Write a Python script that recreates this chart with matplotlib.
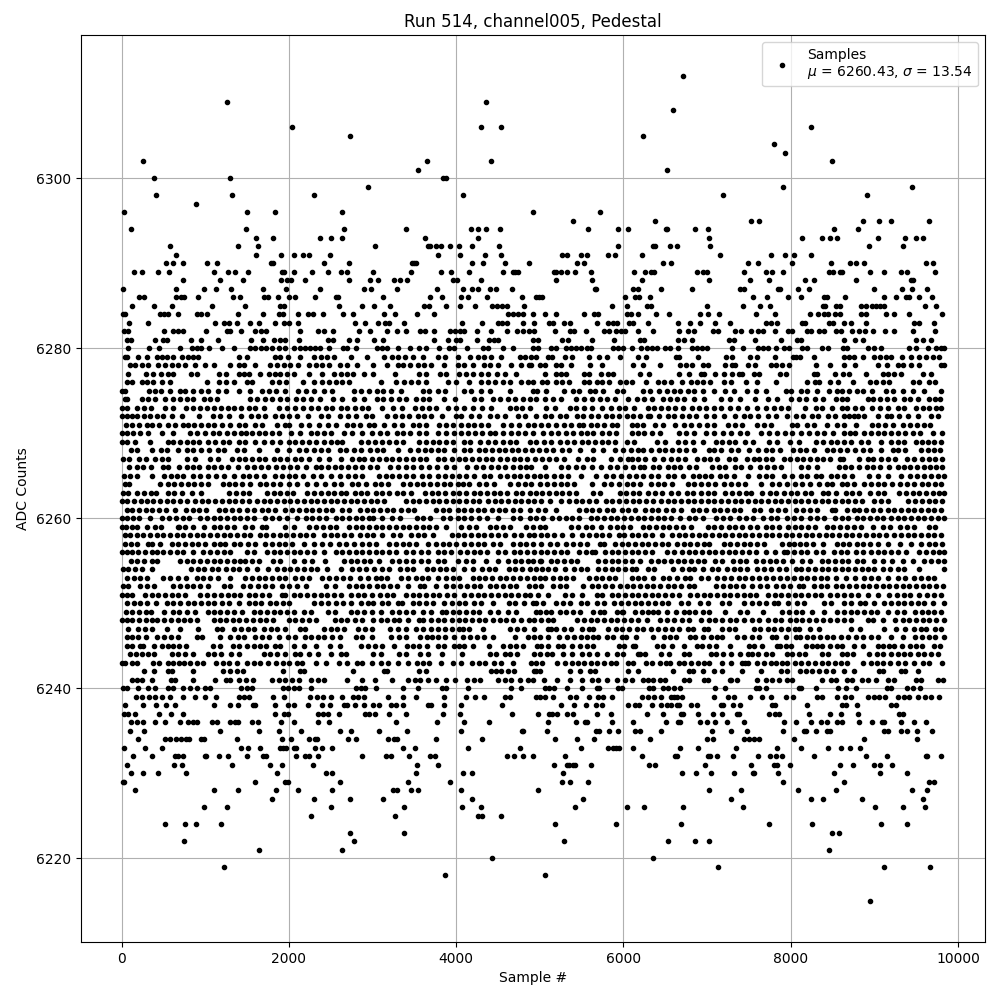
import matplotlib
matplotlib.use('Agg')
import matplotlib.pyplot as plt

# Sample numbers, one list per ADC code.
# Sparse codes are point by point, dense codes are thinned estimates.
adc_6312 = [6716]
adc_6309 = [1263, 4360]
adc_6308 = [6597]
adc_6306 = [2040, 4300, 4539, 8246]
adc_6305 = [2734, 6238]
adc_6304 = [7804]
adc_6303 = [7936]
adc_6302 = [259, 3654, 4419, 8497]
adc_6301 = [3546, 6525]
adc_6300 = [390, 1299, 3846, 3878]
adc_6299 = [2949, 7912, 9454]
adc_6298 = [414, 1323, 2303, 4085, 7194, 8916]
adc_6297 = [893]
adc_6296 = [32, 1502, 1837, 2638, 4923, 5724]
adc_6295 = [5401, 6381, 7529, 7625, 8868, 9059, 9203, 9657]
adc_6294 = [116, 1490, 2662, 3403, 4180, 4264, 4360, 4527, 5580, 5939, 6059, 6513, 6525, 6860, 7015, 8521, 8808]
adc_6293 = [1610, 1813, 2375, 2506, 2638, 3630, 4264, 7027, 8139, 8378, 8474, 8557, 9047, 9370, 9502, 9585]
adc_6292 = [582, 1395, 1634, 3032, 3666, 3690, 3762, 3822, 3929, 4037, 4192, 4515, 5939, 6357, 6381, 6561, 6644, 7039, 8940, 9346]
adc_6291 = [654, 1610, 1909, 2064, 2172, 2243, 2495, 3786, 4049, 4348, 4539, 5270, 5329, 5497, 5568, 5819, 5903, 6226, 7158, 7768, 7936, 8043, 8246]
adc_6290 = [534, 618, 737, 1024, 1144, 1789, 1813, 2423, 2722, 3475, 3499, 3523, 4192, 4324, 4587, 4874, 5449, 5533, 6477, 6573, 7493, 7613, 8019, 8485, 8713, 8784, 8880, 9621, 9705]
adc_6289 = [151, 247, 438, 570, 1108, 1275, 1359, 1514, 1921, 1945, 2064, 2279, 2471, 2626, 2698, 3008, 3463, 3822, 3941, 4156, 4563, 4683, 4707, 4742, 5174, 5198, 5258, 5329, 5425, 5616, 6130, 6262, 6334, 6369, 6883, 6955, 7003, 7445, 7708, 7780, 7912, 8462, 8509, 8593, 8617, 8952, 9119, 9322, 9394, 9729]
adc_6288 = [737, 1179, 1454, 1909, 1980, 2028, 2196, 2722, 2973, 3068, 3259, 3331, 3415, 3965, 4013, 4300, 5198, 5628, 6226, 7027, 7517, 7744, 8175, 8282, 8784, 9442, 9466]
adc_6287 = [20, 654, 988, 1132, 1311, 1693, 1969, 2375, 2901, 2985, 3295, 3774, 4085, 4192, 4264, 4408, 4479, 4671, 5664, 5676, 6118, 6178, 6453, 6824, 7397, 7445, 7852, 7876, 8091, 8222, 8999, 9334, 9454, 9633]
adc_6286 = [211, 271, 654, 717, 749, 916, 1335, 1418, 1705, 1753, 1873, 2004, 2076, 2315, 2566, 2590, 3128, 3686, 3833, 4061, 4145, 4372, 4790, 4959, 4995, 5030, 6023, 6142, 6190, 6322, 7553, 7720, 7971, 8127, 8402, 8438, 8653, 9119, 9263, 9382, 9418, 9538, 9693]
adc_6285 = [130, 393, 608, 1086, 1480, 1895, 1943, 2596, 2879, 3018, 3214, 3620, 3680, 3883, 4050, 4230, 4433, 4485, 4545, 4613, 4816, 5867, 6047, 6286, 6334, 7003, 7433, 7637, 7756, 8390, 8414, 8545, 8593, 8844, 8904, 8976, 9024, 9071, 9119, 9609, 9741]
adc_6284 = [22, 46, 464, 512, 560, 680, 907, 955, 1026, 1397, 1695, 1887, 1935, 2114, 2234, 2294, 2413, 2652, 2771, 3142, 3273, 3536, 3740, 4625, 4685, 4745, 4804, 4924, 5066, 5198, 5533, 5652, 5700, 6047, 6094, 6178, 6393, 6549, 6919, 7015, 7146, 7589, 7816, 8234, 8330, 8402, 8450, 8533, 8593, 8844, 8904, 9143, 9239, 9418, 9812]
adc_6283 = [94, 321, 1122, 1229, 1289, 1385, 1540, 1648, 1839, 1947, 2006, 2114, 2795, 2915, 3070, 3154, 3201, 3381, 4074, 4313, 4505, 4553, 4613, 4804, 4935, 5114, 5162, 5293, 5365, 5688, 5819, 5879, 5927, 6070, 6118, 6298, 6656, 6800, 6919, 7099, 7278, 7708, 7768, 7840, 8139, 8175, 8462, 8509, 8641, 8725, 8904, 9478, 9538, 9717]
adc_6282 = [32, 80, 512, 620, 680, 740, 1016, 1256, 1292, 1424, 1592, 1664, 1724, 2132, 2348, 2420, 2528, 2840, 2972, 3176, 3292, 3404, 3572, 3632, 3740, 3932, 3992, 4052, 4100, 4256, 4412, 4604, 4724, 4796, 4868, 4935, 5187, 5367, 5415, 5559, 5763, 5823, 5907, 5967, 6015, 6171, 6351, 6663, 6771, 6843, 7071, 7131, 7335, 7407, 7527, 7611, 7671, 7815, 7971, 8019, 8199, 8247, 8343, 8403, 8547, 8607, 8739, 8823, 8895, 8991, 9123, 9231, 9459, 9723]
adc_6281 = [68, 116, 404, 500, 548, 836, 956, 1148, 1544, 1688, 1820, 1892, 1952, 2120, 2468, 2528, 2720, 2816, 3020, 3128, 3740, 3908, 4004, 4052, 4256, 4388, 4448, 4496, 4923, 4983, 5271, 5343, 5631, 5883, 6195, 6243, 6651, 6723, 6819, 7263, 7323, 7575, 7887, 8079, 8127, 8643, 8775, 8871, 9495, 9579, 9675]
adc_6280 = [80, 332, 452, 704, 848, 908, 956, 1052, 1196, 1340, 1532, 1592, 1664, 1724, 1796, 1880, 1952, 2060, 2132, 2192, 2252, 2312, 2372, 2480, 2648, 2696, 2804, 3056, 3116, 3176, 3308, 3452, 3560, 3644, 3800, 3920, 3980, 4136, 4328, 4376, 4556, 4676, 4923, 4983, 5139, 5199, 5319, 5379, 5439, 5499, 5571, 5619, 5871, 5931, 5991, 6099, 6207, 6279, 6339, 6399, 6495, 6555, 6651, 6819, 6879, 6939, 6999, 7299, 7431, 7611, 7671, 7731, 7827, 7923, 7983, 8139, 8199, 8379, 8451, 8631, 8679, 8931, 9003, 9075, 9411, 9495, 9639, 9735, 9795, 9833]
adc_6279 = [40, 70, 200, 300, 430, 490, 540, 620, 720, 790, 860, 920, 1400, 1500, 1840, 1900, 1990, 2140, 2300, 2380, 2460, 2540, 2740, 2930, 3140, 3230, 3310, 3390, 3480, 3610, 3790, 3870, 4020, 4170, 4260, 4340, 4420, 4540, 4760, 4820, 4900, 4960, 5100, 5150, 5300, 5390, 5590, 5710, 5800, 5960, 6170, 6270, 6630, 6660, 6890, 7230, 7300, 7520, 7600, 7810, 8030, 8060, 8110, 8280, 8640, 8700, 8760, 8870, 9000, 9070, 9140, 9200, 9330, 9440, 9530, 9620, 9700, 9780]
adc_6278 = [100, 160, 250, 320, 440, 520, 600, 680, 760, 880, 1000, 1110, 1300, 1400, 1460, 1600, 1780, 1860, 1940, 2020, 2110, 2240, 2320, 2400, 2480, 2610, 2700, 2820, 3010, 3180, 3300, 3370, 3450, 3540, 3620, 3700, 3860, 4020, 4100, 4200, 4330, 4410, 4500, 4660, 4780, 4870, 4900, 5000, 5060, 5190, 5260, 5380, 5600, 5740, 6110, 6230, 6440, 6680, 6750, 6820, 6950, 7010, 7220, 7300, 7340, 7490, 7570, 7760, 7830, 7900, 7980, 8300, 8470, 8640, 8770, 9040, 9150, 9280, 9340, 9440, 9540, 9800, 9833]
adc_6277 = [80, 290, 380, 470, 550, 620, 830, 900, 1160, 1250, 1400, 1470, 1520, 1650, 1760, 1840, 1900, 1980, 2060, 2240, 2400, 2540, 2620, 2700, 2770, 2900, 3010, 3270, 3560, 3640, 3810, 3880, 4030, 4120, 4200, 4300, 4380, 4490, 4580, 4720, 5060, 5200, 5260, 5320, 5530, 5590, 5730, 5820, 5880, 6200, 6310, 6660, 6780, 6930, 6960, 7100, 7200, 7300, 7380, 7420, 7560, 7620, 7870, 7940, 8280, 8320, 8530, 8630, 8700, 8900, 9100, 9170, 9240, 9320, 9580, 9680]
adc_6276 = [70, 120, 240, 300, 380, 480, 580, 1020, 1160, 1250, 1340, 1500, 1560, 1800, 1880, 1970, 2170, 2300, 2400, 2480, 2560, 2640, 2720, 3100, 3280, 3380, 3460, 3540, 3640, 3900, 4000, 4160, 4300, 4380, 4460, 4560, 4640, 4780, 4860, 4920, 5030, 5090, 5190, 5270, 5350, 5530, 5590, 5680, 5750, 5830, 5960, 6030, 6100, 6270, 6410, 6490, 6570, 6700, 6810, 6880, 6950, 7040, 7200, 7290, 7470, 7600, 7820, 8200, 8290, 8340, 8470, 8570, 8750, 8950, 9020, 9100, 9180, 9460, 9540, 9660, 9730]
adc_6275 = [7, 40, 330, 400, 470, 580, 700, 760, 860, 950, 1030, 1150, 1250, 1400, 1540, 1680, 1760, 1850, 1960, 2110, 2200, 2300, 2420, 2520, 2780, 2860, 2960, 3050, 3130, 3220, 3340, 3600, 3680, 3790, 3870, 4100, 4180, 4300, 4410, 4640, 4920, 4970, 5080, 5290, 5400, 5470, 5600, 5660, 5760, 5930, 6000, 6240, 6320, 6430, 6520, 6600, 6680, 6770, 6850, 6950, 7090, 7210, 7320, 7480, 7590, 7700, 7940, 8000, 8120, 8200, 8320, 8460, 8550, 8620, 8700, 8790, 8860, 8970, 9140, 9220, 9340, 9460, 9590, 9800]
adc_6274 = [40, 70, 250, 320, 400, 520, 620, 700, 780, 860, 990, 1060, 1140, 1540, 1620, 1720, 1800, 1900, 1980, 2090, 2170, 2260, 2370, 2530, 2640, 2780, 2900, 3060, 3130, 3220, 3320, 3400, 3520, 3600, 3680, 3860, 3990, 4220, 4300, 4440, 4520, 4620, 4710, 4800, 4890, 4960, 5060, 5160, 5260, 5440, 5530, 5620, 5720, 5800, 5900, 6050, 6160, 6250, 6340, 6470, 6560, 6640, 6720, 6840, 6960, 7170, 7270, 7400, 7570, 7730, 7840, 8010, 8100, 8190, 8290, 8390, 8540, 8620, 8680, 8920, 8980, 9070, 9150, 9240, 9350, 9430, 9520, 9650, 9730, 9790]
adc_6273 = [10, 60, 190, 270, 350, 520, 620, 770, 850, 940, 1020, 1100, 1190, 1270, 1350, 1430, 1520, 1600, 1700, 1880, 1980, 2080, 2170, 2260, 2350, 2450, 2520, 2620, 2700, 2790, 2870, 2950, 3120, 3250, 3350, 3510, 3590, 3680, 3760, 3900, 4000, 4100, 4200, 4310, 4420, 4640, 4720, 4790, 4890, 5070, 5180, 5360, 5440, 5530, 5620, 5750, 5850, 5950, 6020, 6130, 6290, 6370, 6450, 6530, 6620, 6710, 6820, 6900, 6990, 7080, 7170, 7280, 7370, 7480, 7600, 7700, 7800, 7890, 7970, 8170, 8300, 8370, 8500, 8610, 8680, 8770, 8850, 8970, 9070, 9170, 9280, 9350, 9500, 9580, 9650, 9740, 9800]
adc_6272 = [7, 60, 120, 190, 270, 340, 420, 500, 600, 720, 930, 1090, 1180, 1290, 1430, 1550, 1630, 1720, 1830, 1920, 2000, 2100, 2230, 2390, 2470, 2610, 2710, 2800, 2920, 3000, 3180, 3270, 3350, 3440, 3550, 3620, 3700, 3830, 4000, 4060, 4180, 4270, 4410, 4490, 4590, 4740, 4830, 4950, 5060, 5140, 5240, 5320, 5450, 5520, 5610, 5700, 5790, 5870, 5950, 6040, 6120, 6200, 6290, 6320, 6430, 6530, 6610, 6700, 6780, 6870, 6990, 7080, 7200, 7340, 7440, 7520, 7610, 7730, 7830, 7960, 8070, 8150, 8250, 8330, 8450, 8530, 8640, 8700, 8760, 8810, 8880, 9040, 9150, 9200, 9300, 9400, 9520, 9680, 9760]
adc_6271 = [50, 130, 210, 300, 370, 450, 560, 640, 730, 790, 870, 950, 1030, 1110, 1200, 1300, 1400, 1480, 1600, 1680, 1860, 1960, 2000, 2150, 2240, 2360, 2470, 2570, 2700, 2770, 2850, 2960, 3020, 3140, 3260, 3350, 3480, 3560, 3640, 3800, 3880, 3960, 4060, 4140, 4220, 4300, 4380, 4560, 4660, 4750, 4860, 4930, 5010, 5100, 5200, 5290, 5380, 5470, 5520, 5610, 5690, 5770, 5860, 5930, 6100, 6160, 6230, 6380, 6470, 6620, 6720, 6810, 6910, 7000, 7080, 7250, 7340, 7420, 7600, 7680, 7770, 8020, 8080, 8200, 8280, 8440, 8550, 8640, 8780, 8970, 9050, 9130, 9220, 9340, 9430, 9510, 9590, 9670]
adc_6270 = [7, 70, 140, 220, 320, 490, 620, 820, 900, 1000, 1090, 1170, 1260, 1340, 1430, 1490, 1560, 1640, 1720, 1800, 1880, 2030, 2130, 2260, 2340, 2420, 2500, 2660, 2760, 2880, 3000, 3090, 3170, 3290, 3360, 3450, 3560, 3640, 3780, 3880, 3970, 4060, 4140, 4230, 4310, 4400, 4470, 4560, 4660, 4740, 4820, 4920, 5040, 5140, 5220, 5310, 5400, 5490, 5570, 5640, 5740, 5830, 5910, 6100, 6180, 6250, 6340, 6440, 6660, 6750, 6840, 6990, 7090, 7190, 7290, 7390, 7480, 7650, 7740, 7840, 7930, 8020, 8130, 8220, 8310, 8400, 8510, 8640, 8710, 8770, 8880, 8960, 9040, 9120, 9200, 9290, 9370, 9460, 9550, 9700, 9810]
adc_6269 = [7, 70, 160, 340, 560, 620, 700, 780, 860, 930, 1030, 1120, 1210, 1290, 1410, 1480, 1600, 1700, 1800, 1900, 2000, 2080, 2160, 2240, 2330, 2420, 2500, 2580, 2640, 2860, 2950, 3030, 3110, 3200, 3280, 3370, 3560, 3640, 3720, 3800, 3880, 3960, 4100, 4170, 4290, 4380, 4470, 4560, 4640, 4720, 4880, 4950, 5050, 5140, 5240, 5330, 5410, 5500, 5580, 5660, 5740, 5820, 5900, 6040, 6130, 6400, 6500, 6650, 6740, 6830, 6950, 7110, 7180, 7260, 7340, 7450, 7550, 7740, 7840, 7990, 8100, 8300, 8390, 8480, 8560, 8640, 8720, 8840, 8930, 9080, 9200, 9280, 9360, 9500, 9570, 9640, 9720, 9800]
adc_6268 = [110, 180, 370, 470, 540, 670, 780, 860, 950, 1050, 1150, 1230, 1380, 1460, 1640, 1860, 2000, 2120, 2210, 2300, 2390, 2470, 2610, 2690, 2780, 2860, 2970, 3060, 3130, 3300, 3450, 3540, 3630, 3700, 3780, 3860, 3980, 4090, 4170, 4280, 4350, 4430, 4510, 4590, 4670, 4740, 4820, 4910, 4990, 5080, 5160, 5270, 5350, 5480, 5640, 5760, 5900, 6000, 6090, 6170, 6240, 6330, 6430, 6500, 6580, 6670, 6750, 6840, 7020, 7090, 7170, 7290, 7370, 7500, 7610, 7700, 7780, 7870, 8030, 8110, 8190, 8280, 8430, 8510, 8590, 8670, 8770, 8860, 8950, 9080, 9220, 9290, 9370, 9560, 9640, 9720, 9790]
adc_6267 = [20, 90, 210, 290, 400, 480, 560, 780, 880, 1060, 1150, 1320, 1410, 1480, 1560, 1640, 1720, 1820, 1900, 1980, 2070, 2150, 2240, 2360, 2480, 2620, 2760, 2840, 2900, 2990, 3080, 3160, 3240, 3320, 3400, 3480, 3570, 3640, 3790, 3860, 3950, 4030, 4110, 4190, 4280, 4360, 4430, 4530, 4610, 4690, 4770, 4850, 4940, 5030, 5110, 5200, 5290, 5460, 5560, 5640, 5850, 5960, 6060, 6100, 6180, 6260, 6370, 6470, 6570, 6650, 6740, 6880, 6960, 7040, 7120, 7260, 7340, 7480, 7560, 7620, 7700, 7780, 7920, 7990, 8080, 8150, 8230, 8310, 8390, 8470, 8590, 8630, 8820, 8920, 8990, 9080, 9170, 9250, 9390, 9480, 9570, 9650, 9730, 9810]
adc_6266 = [90, 180, 260, 350, 500, 560, 690, 780, 850, 930, 1040, 1110, 1190, 1270, 1390, 1500, 1590, 1670, 1750, 1850, 1930, 2020, 2100, 2200, 2320, 2390, 2470, 2550, 2630, 2710, 2790, 2880, 2970, 3060, 3210, 3310, 3400, 3480, 3580, 3680, 3770, 3880, 3980, 4130, 4240, 4320, 4420, 4500, 4580, 4680, 4760, 4840, 4900, 5060, 5250, 5340, 5440, 5520, 5630, 5730, 5840, 5920, 6020, 6120, 6200, 6250, 6350, 6430, 6530, 6600, 6680, 6790, 6870, 7060, 7140, 7220, 7330, 7410, 7520, 7640, 7720, 7800, 7890, 8120, 8210, 8320, 8580, 8650, 8720, 8820, 8910, 8990, 9070, 9180, 9280, 9350, 9430, 9510, 9590, 9670, 9740, 9810]
adc_6265 = [30, 100, 180, 370, 510, 590, 660, 740, 850, 940, 1040, 1130, 1220, 1350, 1450, 1530, 1610, 1700, 1840, 1920, 2000, 2070, 2170, 2290, 2390, 2500, 2610, 2710, 2790, 2880, 3080, 3160, 3240, 3320, 3400, 3480, 3590, 3680, 3790, 3870, 3950, 4030, 4120, 4210, 4330, 4410, 4530, 4610, 4690, 4770, 4850, 4930, 5000, 5080, 5170, 5260, 5340, 5490, 5670, 5790, 5880, 5970, 6070, 6150, 6230, 6330, 6420, 6530, 6610, 6710, 6830, 6900, 6980, 7050, 7160, 7230, 7320, 7490, 7620, 7700, 7780, 7920, 8020, 8120, 8200, 8300, 8360, 8480, 8560, 8640, 8740, 8940, 9050, 9160, 9320, 9430, 9510, 9590, 9680, 9760, 9830]
adc_6264 = [40, 90, 460, 550, 630, 710, 790, 870, 950, 1030, 1210, 1280, 1360, 1440, 1540, 1650, 1730, 1810, 1890, 2000, 2100, 2220, 2320, 2430, 2540, 2630, 2750, 2830, 2920, 3030, 3100, 3190, 3360, 3450, 3530, 3610, 3690, 3770, 3850, 3930, 4020, 4080, 4160, 4280, 4360, 4450, 4650, 4740, 4830, 4900, 5000, 5090, 5170, 5250, 5330, 5410, 5620, 5770, 5850, 5950, 6040, 6120, 6200, 6330, 6410, 6490, 6580, 6770, 6850, 6930, 7010, 7100, 7200, 7290, 7370, 7460, 7650, 7780, 7860, 7960, 8050, 8140, 8230, 8340, 8430, 8490, 8620, 8680, 8760, 8880, 8960, 9040, 9120, 9210, 9310, 9390, 9480, 9570, 9640, 9730, 9800]
adc_6263 = [20, 80, 190, 270, 350, 410, 550, 630, 720, 840, 950, 1290, 1370, 1450, 1520, 1740, 1820, 1900, 1980, 2050, 2220, 2300, 2380, 2470, 2540, 2620, 2690, 2790, 2860, 2930, 3040, 3120, 3200, 3290, 3370, 3460, 3630, 3710, 3790, 3870, 3960, 4040, 4120, 4210, 4290, 4370, 4450, 4530, 4610, 4720, 4790, 4880, 4950, 5030, 5110, 5190, 5270, 5350, 5430, 5640, 5720, 5960, 6030, 6110, 6190, 6300, 6380, 6460, 6570, 6650, 6760, 6830, 6930, 7010, 7090, 7220, 7300, 7380, 7470, 7530, 7660, 7750, 7830, 7920, 8000, 8080, 8170, 8240, 8390, 8450, 8540, 8660, 8740, 8820, 8950, 9040, 9120, 9300, 9380, 9460, 9540, 9620, 9700, 9780, 9833]
adc_6262 = [7, 70, 150, 230, 300, 380, 460, 540, 620, 700, 780, 880, 960, 1040, 1120, 1200, 1280, 1360, 1440, 1520, 1620, 1700, 1780, 1860, 1940, 2020, 2100, 2180, 2260, 2340, 2420, 2500, 2580, 2660, 2740, 2820, 2900, 2980, 3060, 3140, 3400, 3480, 3560, 3640, 3720, 3800, 3880, 3960, 4040, 4120, 4200, 4280, 4380, 4460, 4540, 4620, 4700, 4780, 4860, 4930, 5020, 5120, 5260, 5350, 5430, 5510, 5590, 5670, 5790, 5870, 5950, 6030, 6110, 6190, 6270, 6350, 6450, 6530, 6610, 6690, 6770, 6850, 6930, 7010, 7090, 7170, 7250, 7330, 7410, 7490, 7570, 7650, 7730, 7810, 7890, 7970, 8050, 8130, 8210, 8290, 8370, 8450, 8530, 8610, 8690, 8770, 8850, 9000, 9080, 9160, 9400, 9490, 9570, 9650, 9730, 9810]
adc_6261 = [60, 130, 210, 290, 370, 450, 530, 640, 770, 850, 930, 1010, 1160, 1240, 1320, 1400, 1500, 1580, 1680, 1750, 1830, 1950, 2040, 2120, 2200, 2280, 2360, 2440, 2520, 2640, 2720, 2850, 2930, 3010, 3090, 3170, 3250, 3340, 3420, 3500, 3760, 3840, 3920, 4020, 4100, 4180, 4260, 4340, 4430, 4510, 4590, 4680, 4760, 4880, 4980, 5060, 5200, 5470, 5550, 5630, 5710, 5800, 5880, 5980, 6060, 6140, 6260, 6340, 6420, 6510, 6590, 6690, 6830, 6910, 6990, 7080, 7160, 7240, 7320, 7400, 7560, 7640, 7770, 7850, 7930, 8060, 8150, 8230, 8310, 8490, 8530, 8680, 8760, 8820, 8900, 8980, 9070, 9160, 9240, 9320, 9400, 9480, 9560, 9640, 9720, 9800]
adc_6260 = [7, 70, 140, 210, 340, 480, 570, 650, 730, 810, 940, 1020, 1100, 1180, 1260, 1340, 1420, 1500, 1580, 1720, 1800, 1880, 1980, 2100, 2200, 2280, 2360, 2440, 2560, 2640, 2720, 2800, 2880, 2960, 3010, 3120, 3230, 3330, 3530, 3610, 3690, 3840, 3930, 4020, 4100, 4180, 4280, 4370, 4500, 4680, 4760, 4880, 4960, 5040, 5150, 5230, 5310, 5390, 5470, 5610, 5690, 5770, 5850, 5930, 6010, 6090, 6170, 6250, 6330, 6410, 6490, 6570, 6680, 6780, 6860, 6950, 7110, 7190, 7270, 7380, 7470, 7550, 7670, 7760, 7840, 7960, 8040, 8120, 8230, 8310, 8400, 8530, 8610, 8690, 8790, 8870, 8950, 9030, 9110, 9200, 9280, 9360, 9440, 9520, 9600, 9680, 9760, 9833]
adc_6259 = [7, 50, 130, 190, 300, 400, 470, 670, 690, 760, 860, 990, 1100, 1180, 1260, 1340, 1480, 1560, 1680, 1730, 1960, 2060, 2240, 2330, 2410, 2490, 2570, 2720, 2800, 2880, 2960, 3040, 3120, 3200, 3280, 3360, 3440, 3520, 3600, 3680, 3760, 3880, 4060, 4150, 4240, 4400, 4480, 4560, 4640, 4840, 4920, 5000, 5060, 5380, 5460, 5550, 5620, 5730, 5840, 5920, 6000, 6080, 6230, 6310, 6390, 6470, 6550, 6630, 6710, 6810, 7010, 7090, 7170, 7260, 7340, 7420, 7510, 7600, 7700, 7780, 7860, 7970, 8050, 8130, 8210, 8290, 8430, 8510, 8590, 8670, 8760, 8840, 8980, 9110, 9190, 9310, 9390, 9470, 9650, 9730]
adc_6258 = [40, 100, 180, 260, 340, 420, 500, 580, 660, 740, 820, 900, 980, 1060, 1140, 1220, 1300, 1380, 1460, 1540, 1650, 1730, 1810, 1890, 1970, 2050, 2130, 2210, 2290, 2420, 2500, 2580, 2660, 2740, 2850, 2930, 3010, 3120, 3250, 3330, 3460, 3540, 3620, 3730, 3950, 4020, 4100, 4180, 4260, 4340, 4420, 4500, 4580, 4690, 4780, 4870, 4930, 5010, 5090, 5170, 5270, 5390, 5510, 5590, 5670, 5750, 5830, 5950, 6010, 6100, 6180, 6260, 6340, 6460, 6580, 6660, 6740, 6820, 6900, 6980, 7060, 7140, 7220, 7300, 7380, 7460, 7540, 7620, 7700, 7780, 7860, 7940, 8020, 8100, 8180, 8260, 8340, 8420, 8500, 8580, 8660, 8740, 8820, 8900, 8980, 9060, 9140, 9240, 9320, 9400, 9480, 9560, 9640, 9720, 9800]
adc_6257 = [40, 110, 180, 320, 370, 460, 600, 680, 760, 840, 920, 1000, 1100, 1180, 1240, 1340, 1420, 1510, 1600, 1720, 1800, 1880, 1960, 2040, 2180, 2300, 2400, 2490, 2600, 2680, 2780, 2880, 2960, 3040, 3200, 3280, 3360, 3440, 3520, 3660, 3760, 3840, 3920, 4000, 4100, 4180, 4260, 4340, 4440, 4520, 4680, 4760, 4840, 4920, 5020, 5120, 5210, 5320, 5400, 5480, 5570, 5720, 5770, 5900, 5980, 6060, 6140, 6220, 6300, 6380, 6460, 6540, 6640, 6720, 6800, 6880, 6960, 7030, 7200, 7280, 7360, 7440, 7520, 7600, 7680, 7900, 7980, 8040, 8110, 8190, 8270, 8390, 8550, 8630, 8700, 8790, 8870, 8950, 9050, 9160, 9310, 9440, 9560, 9650, 9730, 9810]
adc_6256 = [7, 60, 120, 200, 280, 360, 420, 500, 580, 660, 740, 860, 980, 1060, 1140, 1220, 1300, 1500, 1580, 1740, 1820, 1900, 1980, 2060, 2140, 2220, 2300, 2420, 2560, 2640, 2720, 2800, 2880, 2960, 3040, 3120, 3200, 3280, 3400, 3480, 3580, 3660, 3780, 3860, 3940, 4050, 4130, 4210, 4290, 4370, 4500, 4580, 4690, 4770, 4850, 4930, 5010, 5090, 5170, 5250, 5330, 5470, 5550, 5630, 5660, 5780, 5860, 5940, 6020, 6100, 6180, 6260, 6340, 6520, 6600, 6700, 6780, 6860, 6940, 7020, 7100, 7180, 7260, 7340, 7420, 7500, 7590, 7710, 7810, 7920, 7960, 8040, 8120, 8200, 8300, 8390, 8520, 8600, 8680, 8780, 8860, 8960, 9040, 9120, 9200, 9280, 9380, 9530, 9620, 9700, 9780, 9833]
adc_6255 = [110, 190, 270, 360, 420, 700, 780, 860, 940, 1020, 1100, 1180, 1260, 1340, 1420, 1480, 1560, 1640, 1810, 1890, 2060, 2180, 2280, 2430, 2660, 2740, 2820, 2900, 2970, 3080, 3240, 3320, 3400, 3480, 3580, 3660, 3780, 3860, 4020, 4120, 4200, 4360, 4500, 4620, 4700, 4780, 4860, 4920, 5000, 5020, 5130, 5210, 5290, 5370, 5450, 5700, 5780, 5860, 5940, 6020, 6100, 6200, 6330, 6410, 6490, 6570, 6650, 6730, 6810, 6890, 6970, 7100, 7180, 7310, 7390, 7470, 7590, 7670, 7750, 7830, 7910, 8020, 8140, 8230, 8370, 8450, 8530, 8610, 8690, 8790, 8870, 9000, 9110, 9210, 9340, 9460, 9600, 9680, 9760, 9830]
adc_6254 = [20, 80, 160, 240, 360, 830, 910, 990, 1080, 1150, 1250, 1330, 1410, 1500, 1620, 1750, 1860, 1940, 2020, 2100, 2180, 2260, 2340, 2460, 2620, 2760, 2840, 2920, 3020, 3120, 3200, 3330, 3410, 3490, 3650, 3730, 3810, 3880, 3960, 4100, 4200, 4310, 4390, 4470, 4630, 4710, 4790, 4890, 4950, 5030, 5100, 5180, 5300, 5410, 5490, 5570, 5700, 5780, 5860, 5940, 6020, 6100, 6150, 6290, 6370, 6590, 6700, 6780, 6840, 6950, 7060, 7130, 7240, 7320, 7400, 7480, 7600, 7680, 7770, 7860, 7940, 8060, 8130, 8210, 8290, 8370, 8450, 8530, 8610, 8690, 8770, 8850, 8930, 9000, 9110, 9190, 9290, 9360, 9530, 9833]
adc_6253 = [60, 150, 220, 300, 500, 580, 680, 770, 900, 980, 1060, 1150, 1300, 1480, 1560, 1640, 1720, 1800, 1880, 1960, 2080, 2160, 2240, 2400, 2480, 2560, 2650, 2730, 2850, 2950, 3040, 3100, 3180, 3340, 3430, 3520, 3590, 3670, 3790, 3880, 3960, 4040, 4200, 4280, 4350, 4430, 4520, 4600, 4680, 4760, 4850, 4930, 5000, 5060, 5160, 5240, 5320, 5400, 5590, 5670, 5750, 5830, 5900, 6100, 6180, 6250, 6360, 6480, 6550, 6640, 6740, 6800, 6930, 7010, 7120, 7200, 7290, 7380, 7460, 7540, 7620, 7710, 7790, 7870, 7960, 8040, 8120, 8200, 8280, 8360, 8440, 8540, 8660, 8770, 8880, 8960, 9040, 9160, 9290, 9370, 9480, 9560, 9640, 9710]
adc_6252 = [20, 80, 220, 300, 390, 620, 700, 780, 860, 940, 1030, 1220, 1300, 1450, 1540, 1630, 1720, 1800, 1920, 2000, 2100, 2200, 2450, 2550, 2720, 2800, 2880, 2960, 3050, 3130, 3210, 3290, 3430, 3570, 3620, 3760, 3880, 3960, 4050, 4130, 4210, 4290, 4400, 4480, 4560, 4640, 4720, 4870, 4940, 5010, 5160, 5240, 5320, 5520, 5620, 5700, 5780, 5860, 5960, 6040, 6120, 6200, 6280, 6360, 6440, 6530, 6610, 6690, 6780, 6850, 7110, 7190, 7270, 7350, 7430, 7540, 7640, 7720, 7830, 7910, 7990, 8100, 8150, 8280, 8360, 8440, 8540, 8620, 8700, 8780, 8860, 8940, 9020, 9100, 9180, 9260, 9340, 9420, 9500, 9580, 9660, 9740, 9820]
adc_6251 = [10, 70, 130, 280, 360, 440, 520, 600, 680, 760, 940, 1020, 1100, 1190, 1270, 1350, 1420, 1520, 1600, 1680, 1760, 1920, 1960, 2060, 2140, 2220, 2300, 2380, 2460, 2540, 2620, 2740, 2830, 2900, 3000, 3090, 3170, 3250, 3400, 3480, 3560, 3640, 3720, 3800, 3890, 3970, 4100, 4180, 4260, 4340, 4420, 4500, 4580, 4660, 4740, 4820, 4890, 4980, 5100, 5300, 5390, 5500, 5680, 5740, 5860, 5940, 6020, 6100, 6180, 6260, 6340, 6420, 6500, 6580, 6660, 6800, 6880, 6960, 7040, 7120, 7200, 7280, 7360, 7440, 7520, 7590, 7730, 7810, 7890, 7970, 8050, 8130, 8210, 8290, 8360, 8470, 8560, 8640, 8720, 8810, 8930, 9050, 9180, 9270, 9350, 9430, 9540, 9630, 9710, 9800]
adc_6250 = [70, 150, 220, 300, 410, 540, 620, 700, 790, 870, 950, 1030, 1110, 1200, 1290, 1400, 1530, 1600, 1670, 1780, 1850, 1930, 2000, 2300, 2380, 2470, 2570, 2650, 2740, 2860, 2950, 3010, 3110, 3190, 3300, 3350, 3480, 3560, 3640, 3730, 3850, 3950, 4030, 4110, 4210, 4300, 4440, 4630, 4700, 4810, 4920, 4960, 5040, 5200, 5280, 5360, 5490, 5570, 5680, 5770, 5890, 5970, 6050, 6140, 6210, 6290, 6380, 6460, 6540, 6690, 6770, 6920, 7010, 7180, 7260, 7440, 7540, 7620, 7710, 7800, 7850, 7970, 8080, 8160, 8400, 8480, 8640, 8720, 8830, 8890, 9000, 9120, 9200, 9280, 9360, 9440, 9520, 9600, 9700, 9833]
adc_6249 = [50, 130, 210, 290, 350, 510, 610, 690, 780, 880, 1030, 1100, 1180, 1260, 1350, 1440, 1580, 1660, 1740, 1820, 1900, 1980, 2060, 2180, 2260, 2470, 2550, 2740, 2820, 2900, 3000, 3100, 3240, 3320, 3400, 3480, 3610, 3700, 3830, 3880, 3960, 4040, 4120, 4200, 4270, 4400, 4500, 4620, 4720, 4960, 5000, 5070, 5130, 5240, 5320, 5400, 5480, 5640, 5720, 5770, 5920, 5990, 6000, 6140, 6220, 6300, 6360, 6420, 6520, 6630, 6730, 6780, 6860, 6950, 7030, 7220, 7400, 7480, 7670, 7900, 7980, 8060, 8140, 8260, 8400, 8560, 8640, 8720, 8790, 8880, 8960, 9030, 9160, 9270, 9350, 9490, 9570, 9640, 9720, 9800]
adc_6248 = [7, 60, 130, 210, 290, 360, 430, 510, 590, 670, 750, 820, 900, 1100, 1180, 1250, 1330, 1410, 1490, 1570, 1650, 1730, 1810, 2000, 2080, 2160, 2240, 2330, 2550, 2620, 2700, 2790, 2870, 3010, 3100, 3180, 3260, 3320, 3430, 3560, 3600, 3700, 3780, 3860, 3950, 4030, 4110, 4190, 4270, 4350, 4440, 4520, 4600, 4680, 4780, 4870, 4930, 5010, 5100, 5160, 5450, 5530, 5610, 5690, 5770, 5850, 5930, 6010, 6090, 6180, 6280, 6440, 6520, 6610, 6700, 6780, 6930, 7020, 7100, 7180, 7270, 7350, 7440, 7540, 7620, 7730, 7810, 7890, 7990, 8060, 8140, 8220, 8300, 8390, 8470, 8560, 8640, 8720, 8920, 8990, 9100, 9250, 9340, 9420, 9500, 9580, 9660, 9740, 9830]
adc_6247 = [80, 200, 280, 360, 540, 700, 920, 1140, 1200, 1350, 1430, 1510, 1590, 1700, 1790, 1860, 1950, 2130, 2190, 2420, 2500, 2580, 2660, 2830, 2910, 3000, 3210, 3300, 3400, 3520, 3600, 3700, 3780, 3870, 3950, 4030, 4080, 4160, 4320, 4650, 4730, 4810, 4930, 5100, 5130, 5190, 5290, 5370, 5500, 5590, 5640, 5820, 5910, 5990, 6070, 6160, 6240, 6330, 6410, 6500, 6580, 6660, 6770, 6830, 6960, 7010, 7180, 7260, 7340, 7560, 7640, 7730, 7800, 7890, 7970, 8050, 8100, 8230, 8340, 8720, 8830, 9120, 9260, 9370, 9480, 9560, 9620, 9730, 9800]
adc_6246 = [60, 120, 200, 290, 430, 510, 590, 680, 900, 960, 1180, 1300, 1390, 1470, 1600, 1680, 1760, 1880, 1990, 2080, 2190, 2270, 2350, 2420, 2520, 2610, 2800, 2880, 3000, 3220, 3320, 3400, 3570, 3650, 3710, 3790, 3870, 3970, 4080, 4170, 4250, 4330, 4440, 4700, 4860, 4930, 5000, 5100, 5230, 5330, 5410, 5490, 5570, 5640, 5700, 5800, 5880, 5980, 6030, 6150, 6360, 6490, 6560, 6630, 6800, 6860, 6950, 7050, 7120, 7180, 7360, 7440, 7540, 7620, 7780, 7830, 7950, 8060, 8110, 8200, 8270, 8350, 8430, 8510, 8600, 8690, 8780, 8860, 8960, 9040, 9200, 9340, 9490, 9570, 9650, 9730, 9830]
adc_6245 = [60, 120, 220, 260, 390, 490, 560, 620, 690, 770, 1090, 1180, 1330, 1410, 1500, 1590, 1650, 1730, 1830, 1900, 2060, 2180, 2320, 2490, 2610, 2860, 2950, 3030, 3110, 3260, 3410, 3490, 3560, 3650, 3780, 3850, 3980, 4030, 4100, 4200, 4390, 4560, 4640, 4720, 4800, 4970, 5010, 5100, 5220, 5280, 5390, 5480, 5560, 5640, 5950, 6010, 6120, 6140, 6400, 6480, 6580, 6730, 6880, 6940, 7030, 7110, 7270, 7500, 7560, 7660, 7840, 7870, 7950, 8000, 8180, 8250, 8310, 8380, 8470, 8550, 8620, 8760, 8870, 9040, 9100, 9180, 9240, 9330, 9430, 9500, 9570, 9710, 9790]
adc_6244 = [100, 170, 250, 320, 390, 600, 680, 760, 850, 1030, 1110, 1190, 1310, 1400, 1700, 1780, 1860, 1950, 2070, 2140, 2240, 2350, 2510, 2620, 2680, 3010, 3100, 3320, 3400, 3570, 3660, 3830, 4070, 4400, 4480, 4580, 4640, 4730, 4930, 5000, 5090, 5150, 5280, 5390, 5510, 5590, 5680, 5800, 5930, 6000, 6180, 6200, 6260, 6450, 6550, 6720, 6780, 7050, 7110, 7190, 7290, 7390, 7490, 7540, 7610, 7700, 7780, 7960, 8020, 8100, 8170, 8370, 8450, 8610, 8670, 8750, 8940, 9030, 9100, 9200, 9290, 9360, 9430, 9520, 9590, 9680, 9760]
adc_6243 = [7, 40, 130, 190, 380, 450, 550, 610, 690, 750, 820, 900, 980, 1130, 1210, 1290, 1380, 1500, 1590, 1660, 1750, 1850, 1930, 2000, 2100, 2160, 2330, 2450, 2600, 2700, 2820, 2880, 3000, 3100, 3190, 3300, 3430, 3530, 3600, 3680, 3820, 3960, 4060, 4190, 4270, 4350, 4450, 4540, 4680, 4900, 4960, 5030, 5210, 5300, 5390, 5460, 5530, 5610, 5690, 5770, 5850, 5910, 6060, 6120, 6270, 6340, 6440, 6510, 6560, 6660, 6730, 6810, 6890, 6960, 7030, 7180, 7290, 7420, 7490, 7460, 7600, 7680, 7770, 7820, 7900, 7960, 8050, 8130, 8210, 8290, 8370, 8450, 8530, 8600, 8680, 8860, 8960, 9030, 9110, 9190, 9280, 9370, 9480, 9580, 9650, 9810]
adc_6242 = [270, 390, 550, 600, 860, 1210, 1300, 1380, 1450, 1930, 2130, 2180, 2770, 3140, 3180, 3560, 3640, 4420, 4480, 4540, 4620, 4690, 4930, 4960, 5000, 5360, 5480, 5600, 5660, 6050, 6180, 6590, 6780, 6830, 6950, 7080, 7180, 7420, 7650, 7880, 7960, 8110, 8180, 8250, 8340, 8420, 8510, 8640, 8760, 9060, 9100, 9320, 9370, 9520]
adc_6241 = [120, 190, 240, 370, 590, 640, 860, 1120, 1250, 1300, 1400, 1490, 1570, 1800, 1880, 1960, 2040, 2120, 2270, 2350, 2420, 2700, 2880, 3030, 3230, 3430, 3510, 3570, 3660, 3760, 3880, 3990, 4130, 4220, 4290, 4500, 4590, 4660, 4760, 4860, 4920, 5050, 5210, 5360, 5500, 5630, 5700, 5800, 5930, 6020, 6100, 6240, 6290, 6360, 6440, 6500, 6720, 6780, 6960, 7010, 7280, 7290, 7360, 7600, 7710, 7780, 7860, 7960, 8020, 8370, 8480, 8540, 8670, 8730, 8850, 8930, 9020, 9160, 9240, 9500, 9560, 9760, 9820]
adc_6240 = [20, 70, 200, 320, 400, 560, 610, 740, 820, 900, 1000, 1060, 1430, 1500, 1560, 1930, 1990, 2060, 2120, 2270, 2800, 2860, 2910, 3040, 3360, 3550, 3830, 3880, 4140, 4660, 4780, 5060, 5110, 5170, 5330, 5500, 5680, 5710, 5940, 5990, 6310, 6360, 6470, 6540, 6600, 6680, 7100, 7220, 7590, 7620, 7710, 8100, 8130, 8300, 8570, 8660, 8780, 9150, 9200, 9390, 9460, 9550]
adc_6239 = [170, 240, 330, 400, 480, 580, 730, 880, 1000, 1130, 1400, 1470, 1530, 1810, 1940, 2250, 2340, 2410, 2500, 2640, 2770, 2830, 2900, 3190, 3370, 3520, 3860, 4120, 4230, 4340, 4580, 4640, 4960, 5000, 5060, 5160, 5360, 5440, 5590, 5700, 5760, 5860, 6220, 6290, 6370, 6450, 6570, 6600, 6640, 6700, 7090, 7250, 7320, 7520, 7660, 7770, 7940, 8030, 8320, 8370, 8560, 8650, 8720, 8930, 9000, 9060, 9130, 9290, 9360, 9420, 9520, 9610, 9680, 9770]
adc_6238 = [44, 259, 414, 534, 642, 1108, 1299, 1395, 1574, 1598, 1837, 1992, 2064, 2232, 2399, 2495, 2662, 2698, 2793, 2901, 3008, 3080, 3224, 3284, 3367, 3666, 3702, 3857, 4061, 4551, 5258, 5413, 5556, 5676, 5748, 6059, 6142, 6190, 6345, 6453, 6525, 6573, 6644, 6668, 6812, 6883, 7170, 7194, 7314, 7397, 7780, 7816, 8198, 8617, 8665, 8796, 9203, 9263]
adc_6237 = [32, 80, 163, 450, 594, 737, 1837, 1945, 1992, 2351, 2411, 2471, 2602, 2913, 2961, 3032, 3200, 3403, 3845, 4049, 4671, 4983, 5114, 5150, 5210, 5329, 5401, 5688, 5855, 6286, 6477, 6692, 6716, 6895, 7075, 7182, 7362, 7386, 7744, 7816, 7864, 8222, 8474, 8605, 8808, 9298, 9346]
adc_6236 = [116, 187, 259, 402, 522, 701, 797, 857, 905, 1084, 1144, 1299, 1359, 1395, 1562, 1634, 1909, 2064, 2351, 2483, 3284, 3774, 4097, 4396, 5102, 5437, 5544, 5568, 5867, 6118, 6513, 6656, 6680, 6919, 7003, 7099, 7242, 7445, 7923, 8067, 8246, 8366, 8438, 8557, 8617, 8820, 8976, 9095, 9119, 9322, 9478, 9621]
adc_6235 = [104, 271, 1179, 1646, 1885, 2148, 2614, 2746, 3080, 3415, 4061, 4790, 4802, 5090, 5676, 5712, 5831, 5939, 6142, 6202, 6453, 7063, 7290, 7481, 7912, 8163, 8187, 8306, 8438, 8474, 9119, 9167, 9322, 9394, 9514, 9693]
adc_6234 = [199, 522, 582, 654, 713, 773, 809, 952, 988, 1383, 1921, 2028, 2244, 2315, 2339, 2710, 2805, 3188, 3260, 3296, 3762, 4312, 5186, 5449, 5652, 6322, 7003, 7075, 7445, 7505, 7565, 7625, 8043, 8880, 9514]
adc_6233 = [32, 283, 486, 1431, 1514, 1658, 1897, 1933, 1969, 2064, 2088, 2315, 2399, 2519, 3367, 3511, 4145, 4766, 5497, 5819, 5879, 5915, 5951, 6118, 6680, 6895, 7350, 7840, 8127, 8450, 8605, 8713, 8832]
adc_6232 = [139, 367, 642, 677, 737, 1000, 1016, 1168, 1275, 1502, 1693, 1730, 2088, 2196, 2244, 2351, 2877, 3164, 3224, 3439, 3690, 3750, 4611, 4695, 4802, 4923, 5305, 6226, 6620, 6644, 7015, 7039, 7123, 7314, 7613, 7756, 7828, 7900, 8282, 8904, 9155, 9621, 9633, 9801]
adc_6231 = [68, 630, 725, 1323, 1777, 1921, 2291, 3535, 3786, 5174, 5329, 5353, 5401, 5425, 5616, 6310, 6381, 6979, 7529, 7804, 7840, 7995, 8593, 8748, 8999, 9071, 9215]
adc_6230 = [116, 259, 438, 773, 1861, 2447, 2519, 3523, 4085, 4192, 5282, 6704, 6872, 7051, 7326, 7553, 7565, 7852, 8521, 9071, 9394]
adc_6229 = [20, 32, 1598, 1957, 1992, 2614, 3427, 3929, 5270, 5365, 5580, 7912, 8641, 9657, 9717]
adc_6228 = [163, 1108, 1395, 1849, 2112, 2519, 3248, 3296, 3463, 3547, 4061, 4983, 7027, 7410, 8091, 8545, 9454, 9633]
adc_6227 = [1801, 2303, 2734, 3128, 4192, 5521, 7290, 8246, 8390, 8856, 9585]
adc_6226 = [988, 1263, 2507, 3379, 4073, 4300, 5425, 6047, 6250, 6716, 7433, 9012, 9346, 9609]
adc_6225 = [2267, 3272, 4264, 4312, 4539]
adc_6224 = [522, 761, 893, 1191, 5186, 5915, 6692, 7744, 8258, 9083, 9394]
adc_6223 = [2734, 3379, 8497, 8581]
adc_6222 = [749, 2782, 5293, 6537, 6860, 7027]
adc_6221 = [1646, 2638, 8462]
adc_6220 = [4431, 6357]
adc_6219 = [1227, 7134, 9119, 9669]
adc_6218 = [3869, 5066]
adc_6215 = [8952]

all_rows = {
    6312: adc_6312, 6309: adc_6309, 6308: adc_6308, 6306: adc_6306, 6305: adc_6305,
    6304: adc_6304, 6303: adc_6303, 6302: adc_6302, 6301: adc_6301, 6300: adc_6300,
    6299: adc_6299, 6298: adc_6298, 6297: adc_6297, 6296: adc_6296, 6295: adc_6295,
    6294: adc_6294, 6293: adc_6293, 6292: adc_6292, 6291: adc_6291, 6290: adc_6290,
    6289: adc_6289, 6288: adc_6288, 6287: adc_6287, 6286: adc_6286, 6285: adc_6285,
    6284: adc_6284, 6283: adc_6283, 6282: adc_6282, 6281: adc_6281, 6280: adc_6280,
    6279: adc_6279, 6278: adc_6278, 6277: adc_6277, 6276: adc_6276, 6275: adc_6275,
    6274: adc_6274, 6273: adc_6273, 6272: adc_6272, 6271: adc_6271, 6270: adc_6270,
    6269: adc_6269, 6268: adc_6268, 6267: adc_6267, 6266: adc_6266, 6265: adc_6265,
    6264: adc_6264, 6263: adc_6263, 6262: adc_6262, 6261: adc_6261, 6260: adc_6260,
    6259: adc_6259, 6258: adc_6258, 6257: adc_6257, 6256: adc_6256, 6255: adc_6255,
    6254: adc_6254, 6253: adc_6253, 6252: adc_6252, 6251: adc_6251, 6250: adc_6250,
    6249: adc_6249, 6248: adc_6248, 6247: adc_6247, 6246: adc_6246, 6245: adc_6245,
    6244: adc_6244, 6243: adc_6243, 6242: adc_6242, 6241: adc_6241, 6240: adc_6240,
    6239: adc_6239, 6238: adc_6238, 6237: adc_6237, 6236: adc_6236, 6235: adc_6235,
    6234: adc_6234, 6233: adc_6233, 6232: adc_6232, 6231: adc_6231, 6230: adc_6230,
    6229: adc_6229, 6228: adc_6228, 6227: adc_6227, 6226: adc_6226, 6225: adc_6225,
    6224: adc_6224, 6223: adc_6223, 6222: adc_6222, 6221: adc_6221, 6220: adc_6220,
    6219: adc_6219, 6218: adc_6218, 6215: adc_6215,
}


def main():
    samples = []
    counts = []
    for code, row in all_rows.items():
        samples.extend(row)
        counts.extend([code] * len(row))

    plt.figure(figsize=(10, 10))
    plt.plot(samples, counts, 'k.', label='Samples\n$\\mu$ = 6260.43, $\\sigma$ = 13.54')
    plt.title('Run 514, channel005, Pedestal')
    plt.xlabel('Sample #')
    plt.ylabel('ADC Counts')
    plt.grid(True)
    plt.legend(loc='upper right')
    plt.ylim(6210.15, 6316.85)
    plt.subplots_adjust(left=0.081, right=0.985, top=0.965, bottom=0.058)
    plt.savefig('out.png', dpi=100)


if __name__ == '__main__':
    main()
